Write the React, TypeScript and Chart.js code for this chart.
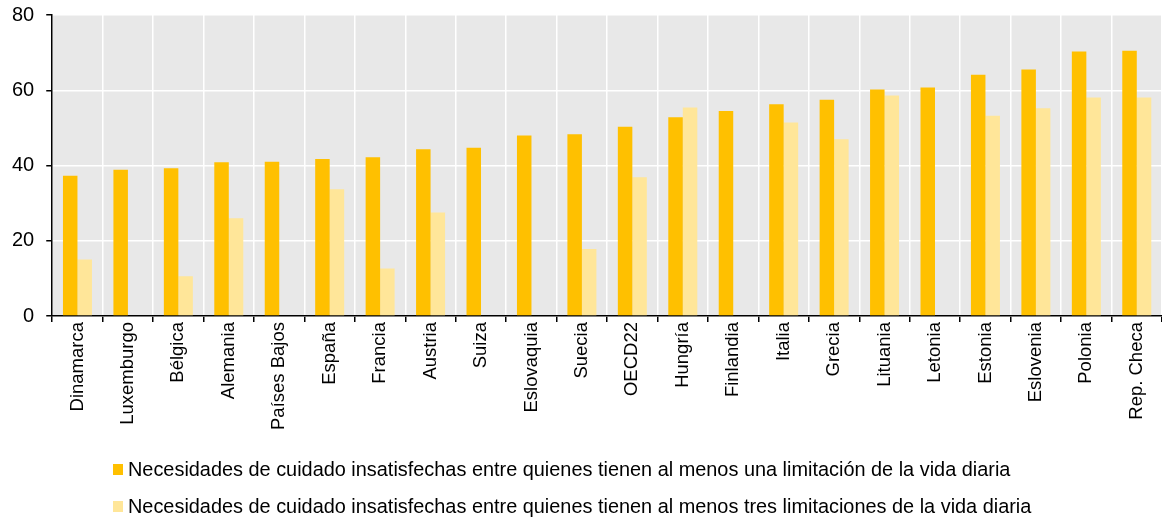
import React, { useEffect, useRef } from "react";
import { Chart, registerables } from "chart.js";

Chart.register(...registerables);

const categories = [
  "Dinamarca", "Luxemburgo", "Bélgica", "Alemania", "Países Bajos", "España",
  "Francia", "Austria", "Suiza", "Eslovaquia", "Suecia", "OECD22", "Hungría",
  "Finlandia", "Italia", "Grecia", "Lituania", "Letonia", "Estonia",
  "Eslovenia", "Polonia", "Rep. Checa",
];

const atLeastOne = [
  37.3, 38.9, 39.3, 40.9, 41.0, 41.7, 42.2, 44.3, 44.7, 48.0, 48.3, 50.3,
  52.8, 54.5, 56.3, 57.5, 60.2, 60.7, 64.1, 65.5, 70.3, 70.5,
];

const atLeastThree = [
  15.0, null, 10.6, 26.0, null, 33.7, 12.6, 27.5, null, null, 17.8, 36.9,
  55.4, null, 51.4, 47.0, 58.6, null, 53.2, 55.2, 58.1, 58.1,
];

const seriesLabels = [
  "Necesidades de cuidado insatisfechas entre quienes tienen al menos una limitación de la vida diaria",
  "Necesidades de cuidado insatisfechas entre quienes tienen al menos tres limitaciones de la vida diaria",
];

const seriesColors = ["#FFC000", "#FFE699"];

const yTicks = [0, 20, 40, 60, 80];

const FONT = "'Liberation Sans', Arial, sans-serif";

// Fills the plotting area with a light grey before the grid is drawn
const plotBackground = {
  id: "plotBackground",
  beforeDraw(chart: any) {
    const { ctx, chartArea } = chart;
    ctx.save();
    ctx.fillStyle = "#E8E8E8";
    ctx.fillRect(chartArea.left, chartArea.top, chartArea.right - chartArea.left, chartArea.bottom - chartArea.top);
    ctx.restore();
  },
};

export default function App() {
  const canvasRef = useRef<HTMLCanvasElement | null>(null);

  useEffect(() => {
    document.body.style.margin = "0";
    const canvas = canvasRef.current;
    if (!canvas) return;
    const chart = new Chart(canvas, {
      type: "bar",
      data: {
        labels: categories,
        datasets: [
          {
            label: seriesLabels[0],
            data: atLeastOne,
            backgroundColor: seriesColors[0],
            categoryPercentage: 0.575,
            barPercentage: 1,
          },
          {
            label: seriesLabels[1],
            data: atLeastThree,
            backgroundColor: seriesColors[1],
            categoryPercentage: 0.575,
            barPercentage: 1,
          },
        ],
      },
      options: {
        responsive: false,
        animation: false,
        devicePixelRatio: 1,
        layout: { padding: { top: 0, left: 0, right: 0, bottom: 88 } },
        plugins: {
          legend: { display: false },
          tooltip: { enabled: false },
        },
        scales: {
          x: {
            grid: {
              offset: true,
              color: "#FFFFFF",
              lineWidth: 1.5,
              tickColor: "#000000",
              tickLength: 6,
              drawTicks: true,
            },
            border: { color: "#000000", width: 1.5 },
            ticks: {
              color: "#000000",
              font: { family: FONT, size: 18.5 },
              minRotation: 90,
              maxRotation: 90,
              autoSkip: false,
              padding: 0,
            },
          },
          y: {
            min: 0,
            max: 80,
            afterBuildTicks(scale: any) {
              scale.ticks = yTicks.map((v) => ({ value: v }));
            },
            grid: {
              color: "#FFFFFF",
              lineWidth: 1.5,
              tickColor: "#000000",
              tickLength: 6,
            },
            border: { color: "#000000", width: 1.5 },
            ticks: {
              color: "#000000",
              font: { family: FONT, size: 20, lineHeight: 0.3 },
              padding: 12,
            },
          },
        },
      },
      plugins: [plotBackground],
    });
    return () => chart.destroy();
  }, []);

  const legendRows = [
    { top: 459, markerTop: 464 },
    { top: 496, markerTop: 501 },
  ];

  return (
    <div style={{ position: "relative", width: 1162, height: 518, background: "#FFFFFF" }}>
      <canvas ref={canvasRef} width={1162} height={518} style={{ display: "block" }} />
      {legendRows.map((row, i) => (
        <React.Fragment key={i}>
          <div
            style={{
              position: "absolute",
              left: 113,
              top: row.markerTop,
              width: 10,
              height: 11,
              background: seriesColors[i],
            }}
          />
          <div
            style={{
              position: "absolute",
              left: 128,
              top: row.top,
              fontFamily: FONT,
              fontSize: 19.9,
              lineHeight: "20px",
              color: "#000000",
              whiteSpace: "nowrap",
            }}
          >
            {seriesLabels[i]}
          </div>
        </React.Fragment>
      ))}
    </div>
  );
}
